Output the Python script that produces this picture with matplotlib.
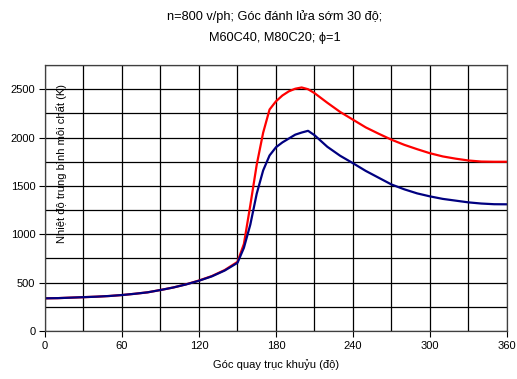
import numpy as np
import matplotlib
matplotlib.use('Agg')
import matplotlib.pyplot as plt
from matplotlib.ticker import MultipleLocator

plt.rcParams['font.family'] = ['Liberation Sans', 'DejaVu Sans']

# crank angle (deg) and mean gas temperature (K)
goc = [0, 10, 20, 30, 40, 50, 60, 70, 80, 90, 100, 110, 120, 130, 140,
       150, 155, 160, 165, 170, 175, 180, 185, 190, 195, 200, 205, 210,
       220, 230, 240, 250, 260, 270, 280, 290, 300, 310, 320, 330, 340,
       350, 360]

t_m60c40 = [338, 340, 345, 350, 355, 362, 372, 385, 400, 424, 450, 483, 522,
            568, 630, 715, 900, 1300, 1720, 2050, 2290, 2375, 2435, 2478,
            2505, 2518, 2500, 2460, 2360, 2265, 2185, 2105, 2040, 1978, 1925,
            1880, 1838, 1805, 1782, 1763, 1752, 1750, 1750]

t_m80c20 = [338, 340, 345, 350, 355, 362, 372, 385, 400, 424, 450, 482, 520,
            565, 625, 705, 860, 1100, 1420, 1660, 1815, 1900, 1950, 1990,
            2030, 2052, 2070, 2025, 1905, 1812, 1735, 1655, 1585, 1515, 1465,
            1423, 1392, 1366, 1348, 1330, 1318, 1311, 1310]

fig = plt.figure(figsize=(5.17, 3.79), dpi=100)
ax = fig.add_axes([0.087, 0.1266, 0.8936, 0.7018])

ax.plot(goc, t_m60c40, color='#ff0000', lw=1.6)
ax.plot(goc, t_m80c20, color='#000080', lw=1.6)

ax.set_xlim(0, 360)
ax.set_ylim(0, 2750)
ax.xaxis.set_major_locator(MultipleLocator(60))
ax.xaxis.set_minor_locator(MultipleLocator(30))
ax.yaxis.set_major_locator(MultipleLocator(500))
ax.yaxis.set_minor_locator(MultipleLocator(250))
ax.grid(True, which='both', color='black', lw=0.9)
ax.set_axisbelow(True)
ax.tick_params(which='major', direction='out', length=4, width=0.8,
               labelsize=8, pad=3)
ax.tick_params(which='minor', length=0)
for s in ax.spines.values():
    s.set_linewidth(0.9)
    s.set_color('#404040')

ax.set_xlabel('Góc quay trục khuỷu (độ)', fontsize=8, labelpad=6)
ax.text(0.035, 0.63, 'Nhiệt độ trung bình môi chất (K)', rotation=90,
        transform=ax.transAxes, fontsize=8, ha='center', va='center')

fig.text(0.532, 0.957, 'n=800 v/ph; Góc đánh lửa sớm 30 độ;', fontsize=9.2,
         ha='center', va='center')
fig.text(0.532, 0.900, 'M60C40, M80C20; ϕ=1', fontsize=9.2,
         ha='center', va='center')

fig.savefig('out.png', dpi=100)
